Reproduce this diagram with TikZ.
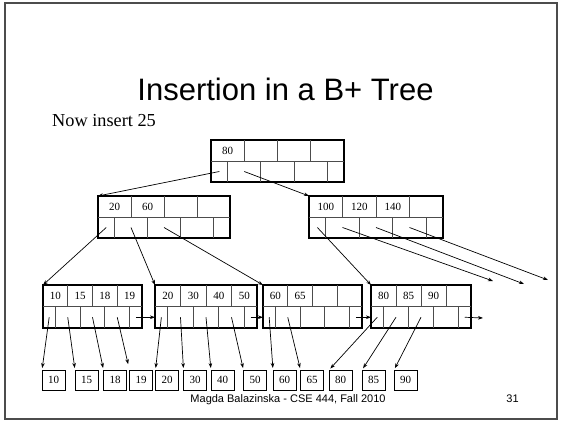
\documentclass[tikz,border=0pt]{standalone}
\usepackage{fontspec}
\setmainfont{Liberation Serif}
\newfontfamily\arialfont{Liberation Sans}
\usetikzlibrary{arrows.meta,calc}

\tikzset{
  bbox/.style={draw=black, line width=1.3pt, rectangle, inner sep=0pt, outer sep=0pt},
  divider/.style={draw=black!70, line width=0.9pt},
  keytext/.style={font=\fontsize{11}{11}\selectfont, inner sep=0pt},
  ptr/.style={line width=0.7pt, -{Stealth[length=5pt,width=3.6pt]}},
  valbox/.style={draw=black, line width=0.9pt, rectangle, minimum width=23pt, minimum height=20pt, inner sep=0pt, outer sep=0pt, font=\fontsize{11}{11}\selectfont},
}

% name, left x, top y, width, height, keys
\newcommand{\bptnode}[6]{%
  \node[bbox, minimum width=#4pt, minimum height=#5pt, anchor=north west] (#1) at (#2,#3) {};
  \draw[divider] (#1.west) -- (#1.east);
  \foreach \k in {1,2,3}{\draw[divider] ($(#1.north west)!\k/4!(#1.north east)$) -- ($(#1.west)!\k/4!(#1.east)$);}
  \foreach \k in {1,3,5,7}{\draw[divider] ($(#1.west)!\k/8!(#1.east)$) -- ($(#1.south west)!\k/8!(#1.south east)$);}
  \foreach \t [count=\i] in {#6}{\node[keytext] (#1k\i) at ($(#1.north west)!{(\i-0.5)/4}!(#1.north east) + (0,#5/4)$) {\t};}
  \coordinate (#1p1) at ($(#1.west)!1/16!(#1.east) + (0,#5/4)$);
  \coordinate (#1p2) at ($(#1.west)!1/4!(#1.east) + (0,#5/4)$);
  \coordinate (#1p3) at ($(#1.west)!1/2!(#1.east) + (0,#5/4)$);
  \coordinate (#1p4) at ($(#1.west)!3/4!(#1.east) + (0,#5/4)$);
  \coordinate (#1p5) at ($(#1.west)!15/16!(#1.east) + (0,#5/4)$);
}

\begin{document}
\begin{tikzpicture}[x=1pt, y=-1pt]
  \useasboundingbox (0,0) rectangle (563,426);
  \fill[white] (0,0) rectangle (563,426);
  \draw[line width=1.2pt, black!70] (5,3) rectangle (557,419);

  \node[font=\arialfont\fontsize{31}{31}\selectfont, anchor=base, inner sep=0pt] (title) at (285.5,100) {Insertion in a B+ Tree};
  \node[font=\fontsize{18.3}{18.3}\selectfont, anchor=base west, inner sep=0pt] (now) at (52,126) {Now insert 25};

  \bptnode{root}{211}{140}{133}{42}{80}
  \bptnode{inA}{98}{196}{132}{42}{20,60}
  \bptnode{inB}{309}{196}{134}{42}{100,120,140}
  \bptnode{lfA}{43}{285}{99}{43}{10,15,18,19}
  \bptnode{lfB}{155}{285}{102}{43}{20,30,40,50}
  \bptnode{lfC}{263}{285}{99}{43}{60,65}
  \bptnode{lfD}{371}{285}{100}{43}{80,85,90}

  \foreach \v/\x in {10/53.5,15/86.5,18/115,19/141,20/167,30/195,40/222.5,50/255,60/284.5,65/312,80/340.5,85/373.5,90/405.5}{
    \node[valbox] (b\v) at (\x,380) {\v};
  }

  \coordinate (endB2) at (493,281);
  \coordinate (endB3) at (524,284);
  \coordinate (endB4) at (548,280);
  \coordinate (endD5) at (483,318);

  % root
  \draw[ptr] (rootp1) -- (inA.north west);
  \draw[ptr] (rootp2) -- (inB.north west);
  % internal A
  \draw[ptr] (inAp1) -- (lfA.north west);
  \draw[ptr] (inAp2) -- (lfB.north west);
  \draw[ptr] (inAp3) -- (lfC.north west);
  % internal B
  \draw[ptr] (inBp1) -- (lfD.north west);
  \draw[ptr] (inBp2) -- (endB2);
  \draw[ptr] (inBp3) -- (endB3);
  \draw[ptr] (inBp4) -- (endB4);
  % leaf sibling pointers
  \draw[ptr] (lfAp5) -- (lfAp5 -| lfB.west);
  \draw[ptr] (lfBp5) -- (lfBp5 -| lfC.west);
  \draw[ptr] (lfCp5) -- (lfCp5 -| lfD.west);
  \draw[ptr] (lfDp5) -- (endD5);
  % leaf to records
  \draw[ptr, shorten >=2pt] (lfAp1) -- (b10.north west);
  \draw[ptr, shorten >=2pt] (lfAp2) -- (b15.north west);
  \draw[ptr, shorten >=2pt] (lfAp3) -- (b18.north west);
  \draw[ptr, shorten >=6pt] (lfAp4) -- (b19.north west);
  \draw[ptr, shorten >=2pt] (lfBp1) -- (b20.north west);
  \draw[ptr, shorten >=2pt] (lfBp2) -- (b30.north west);
  \draw[ptr, shorten >=2pt] (lfBp3) -- (b40.north west);
  \draw[ptr, shorten >=2pt] (lfBp4) -- (b50.north west);
  \draw[ptr, shorten >=2pt] (lfCp1) -- (b60.north west);
  \draw[ptr, shorten >=2pt] (lfCp2) -- (b65.north west);
  \draw[ptr, shorten >=2pt] (lfDp1) -- (b80.north west);
  \draw[ptr, shorten >=2pt] (lfDp2) -- (b85.north west);
  \draw[ptr, shorten >=2pt] (lfDp3) -- (b90.north west);

  \node[font=\arialfont\fontsize{11}{11}\selectfont, anchor=base] (footer) at (288,402) {Magda Balazinska - CSE 444, Fall 2010};
  \node[font=\arialfont\fontsize{11}{11}\selectfont, anchor=base] (pgnum) at (512.5,402) {31};
\end{tikzpicture}
\end{document}
